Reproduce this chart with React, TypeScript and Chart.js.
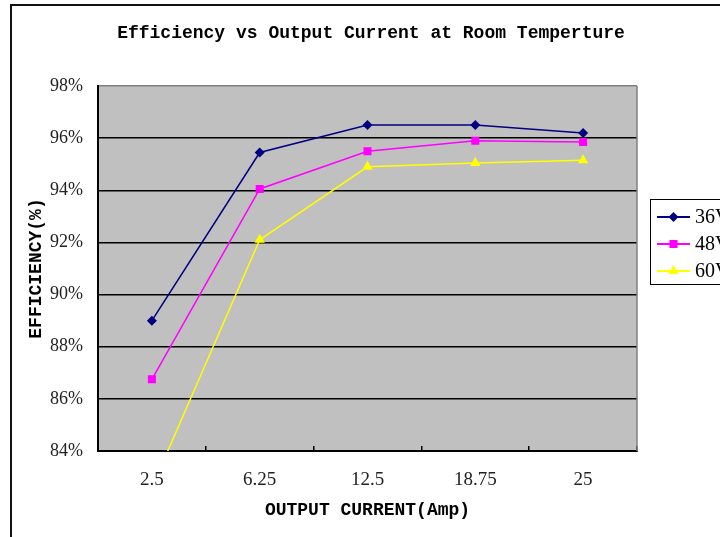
import React, { useEffect, useRef } from 'react';
import { Chart, registerables } from 'chart.js';

Chart.register(...registerables);

const categories = ['2.5', '6.25', '12.5', '18.75', '25'];
const seriesNames = ['36V', '48V', '60V'];
const series36V = [89.0, 95.45, 96.5, 96.5, 96.2];
const series48V = [86.75, 94.05, 95.5, 95.9, 95.85];
const series60V = [82.6, 92.1, 94.9, 95.05, 95.15];
const seriesColors = ['#000080', '#FF00FF', '#FFFF00'];
const seriesPointStyles = ['rectRot', 'rect', 'triangle'];
const seriesPointRadius = [5, 5.7, 6];
const yMin = 84;
const yMax = 98;
const yStep = 2;
const chartTitle = 'Efficiency vs Output Current at Room Temperture';
const xAxisTitle = 'OUTPUT CURRENT(Amp)';
const yAxisTitle = 'EFFICIENCY(%)';

const monoBold = '"Liberation Mono", "DejaVu Sans Mono", monospace';
const serif = '"Liberation Serif", "DejaVu Serif", serif';

function drawMarker(ctx: CanvasRenderingContext2D, style: string, x: number, y: number, r: number, color: string) {
  ctx.save();
  ctx.fillStyle = color;
  ctx.strokeStyle = color;
  ctx.beginPath();
  if (style === 'rectRot') {
    ctx.moveTo(x, y - r);
    ctx.lineTo(x + r, y);
    ctx.lineTo(x, y + r);
    ctx.lineTo(x - r, y);
    ctx.closePath();
  } else if (style === 'rect') {
    const h = r * Math.SQRT1_2;
    ctx.rect(x - h, y - h, 2 * h, 2 * h);
  } else {
    const s = (3 * r) / Math.sqrt(3);
    const hgt = (s * Math.sqrt(3)) / 2;
    ctx.moveTo(x - s / 2, y + hgt / 3);
    ctx.lineTo(x + s / 2, y + hgt / 3);
    ctx.lineTo(x, y - (2 * hgt) / 3);
    ctx.closePath();
  }
  ctx.fill();
  ctx.restore();
}

const decorPlugin = {
  id: 'decor',
  beforeDraw(chart: any) {
    const { ctx, chartArea, width, height } = chart;
    ctx.save();
    ctx.fillStyle = '#ffffff';
    ctx.fillRect(0, 0, width, height);
    // outer frame
    ctx.strokeStyle = '#111111';
    ctx.lineWidth = 2;
    ctx.beginPath();
    ctx.moveTo(11, height + 2);
    ctx.lineTo(11, 5);
    ctx.lineTo(width + 2, 5);
    ctx.stroke();
    // plot background
    ctx.fillStyle = '#C0C0C0';
    ctx.fillRect(chartArea.left, chartArea.top, chartArea.right - chartArea.left, chartArea.bottom - chartArea.top);
    ctx.restore();
  },
  afterDraw(chart: any) {
    const { ctx, chartArea } = chart;
    ctx.save();
    // right border of plot area
    ctx.strokeStyle = '#808080';
    ctx.lineWidth = 1.5;
    ctx.beginPath();
    ctx.moveTo(chartArea.right, chartArea.top);
    ctx.lineTo(chartArea.right, chartArea.bottom);
    ctx.stroke();
    // title
    ctx.fillStyle = '#000000';
    ctx.font = `bold 18px ${monoBold}`;
    ctx.textAlign = 'center';
    ctx.textBaseline = 'middle';
    ctx.fillText(chartTitle, 371, 33);
    // legend
    const lx = chartArea.right + 13;
    const ly = 199;
    ctx.strokeStyle = '#000000';
    ctx.lineWidth = 1;
    ctx.fillStyle = '#ffffff';
    ctx.fillRect(lx, ly, 120, 85);
    ctx.strokeRect(lx + 0.5, ly + 0.5, 120, 85);
    chart.data.datasets.forEach((ds: any, i: number) => {
      const y = ly + 18 + i * 27;
      ctx.strokeStyle = ds.borderColor;
      ctx.lineWidth = 2;
      ctx.beginPath();
      ctx.moveTo(lx + 7, y);
      ctx.lineTo(lx + 40, y);
      ctx.stroke();
      drawMarker(ctx, ds.pointStyle, lx + 23.5, y, ds.pointRadius, ds.backgroundColor);
      ctx.fillStyle = '#000000';
      ctx.font = `20px ${serif}`;
      ctx.textAlign = 'left';
      ctx.textBaseline = 'middle';
      ctx.fillText(ds.label, lx + 45, y + 1);
    });
    ctx.restore();
  },
};

export default function App() {
  const canvasRef = useRef<HTMLCanvasElement | null>(null);

  useEffect(() => {
    if (!canvasRef.current) return;
    const allSeries = [series36V, series48V, series60V];
    const chart = new Chart(canvasRef.current, {
      type: 'line',
      data: {
        labels: categories,
        datasets: allSeries.map((values, i) => ({
          label: seriesNames[i],
          data: values,
          borderColor: seriesColors[i],
          backgroundColor: seriesColors[i],
          pointStyle: seriesPointStyles[i] as any,
          pointRadius: seriesPointRadius[i],
          pointBorderWidth: 0,
          borderWidth: 1.5,
          tension: 0,
          fill: false,
        })),
      },
      options: {
        responsive: false,
        animation: false,
        devicePixelRatio: 1,
        layout: { padding: { left: 20, right: 83, top: 86, bottom: 0 } },
        plugins: {
          legend: { display: false },
          title: { display: false },
          tooltip: { enabled: false },
        },
        scales: {
          x: {
            type: 'category',
            offset: true,
            grid: {
              display: true,
              offset: true,
              drawOnChartArea: false,
              drawTicks: true,
              tickLength: -5,
              color: '#000000',
              lineWidth: 1.5,
            },
            border: { display: true, color: '#000000', width: 2 },
            ticks: {
              color: '#222222',
              font: { family: serif, size: 19 },
              padding: 23,
              maxRotation: 0,
            },
            title: {
              display: true,
              text: xAxisTitle,
              color: '#000000',
              font: { family: monoBold, size: 18, weight: 'bold' },
              padding: { top: 0, bottom: 16 },
            },
            afterFit(scale: any) {
              scale.height = 86;
            },
          },
          y: {
            min: yMin,
            max: yMax,
            ticks: {
              stepSize: yStep,
              color: '#222222',
              font: { family: serif, size: 18 },
              padding: 15,
              callback: (v: any) => `${v}%`,
            },
            grid: {
              drawTicks: false,
              color: (c: any) => (c.tick && c.tick.value === yMax ? '#808080' : '#000000'),
              lineWidth: 1.5,
            },
            border: { display: true, color: '#000000', width: 2 },
            title: {
              display: true,
              text: yAxisTitle,
              color: '#000000',
              font: { family: monoBold, size: 18, weight: 'bold' },
              padding: { top: 6, bottom: 0 },
            },
            afterFit(scale: any) {
              scale.width = 78;
            },
          },
        },
      },
      plugins: [decorPlugin],
    });
    return () => chart.destroy();
  }, []);

  return (
    <div style={{ position: 'fixed', left: 0, top: 0, width: 720, height: 537, overflow: 'hidden', background: '#fff' }}>
      <canvas ref={canvasRef} width={720} height={537} style={{ display: 'block', width: 720, height: 537 }} />
    </div>
  );
}
